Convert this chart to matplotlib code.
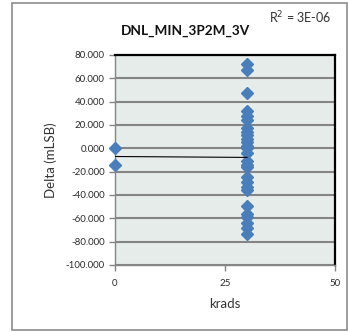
import numpy as np
import matplotlib
matplotlib.use("Agg")
import matplotlib.pyplot as plt
from matplotlib.patches import Rectangle

plt.rcParams['font.family'] = ['Lato', 'DejaVu Sans']

# krads / Delta (mLSB) readings
krads_0 = [0, 0]
delta_0 = [0, -14]
krads_30 = [30] * 27
delta_30 = [72, 67, 47, 32, 28, 24, 17, 14, 11, 8, 5, 2, 0, -4,
            -11, -14, -16, -25, -29, -33, -36, -49, -56, -59, -64, -68, -73]

y_ticks = [-100, -80, -60, -40, -20, 0, 20, 40, 60, 80]
x_ticks = [0, 25, 50]

x = np.array(krads_0 + krads_30, dtype=float)
y = np.array(delta_0 + delta_30, dtype=float)
slope, intercept = np.polyfit(x, y, 1)

fig = plt.figure(figsize=(3.48, 3.32), dpi=100)
fig.patches.append(Rectangle((12 / 348, 2 / 332), 335 / 348, 327 / 332,
                             transform=fig.transFigure, fill=False,
                             edgecolor='#8c8c8c', linewidth=1.2))

ax = fig.add_axes([115 / 348, 67 / 332, 220 / 348, 210 / 332])
ax.set_facecolor('#e6ecea')

ax.set_xlim(0, 50)
ax.set_ylim(-100, 80)
ax.set_yticks(y_ticks)
ax.set_yticklabels([f"{v:.3f}" for v in y_ticks])
ax.set_xticks(x_ticks)

ax.grid(axis='y', color='#858585', linewidth=1.5)
ax.set_axisbelow(True)

ax.plot(x, y, linestyle='none', marker='D', markersize=6,
        color='#4a7ebb', zorder=3, clip_on=False)
xs = np.array([0, 30])
ax.plot(xs, slope * xs + intercept, color='black', linewidth=0.8, zorder=4)

for side in ['top', 'right']:
    ax.spines[side].set_color('black')
    ax.spines[side].set_linewidth(1.6)
for side in ['left', 'bottom']:
    ax.spines[side].set_color('#858585')
    ax.spines[side].set_linewidth(1.0)

ax.tick_params(axis='both', colors='#858585', labelcolor='#2b2b2b',
               labelsize=7, length=4, width=1)
ax.tick_params(axis='x', pad=6)

ax.set_xlabel("krads", fontsize=9.5, color='#333333', labelpad=7)
ax.set_ylabel("Delta (mLSB)", fontsize=9.5, color='#333333', labelpad=6)

fig.text(186 / 348, 1 - 31 / 332, "DNL_MIN_3P2M_3V", ha='center', va='center',
         fontsize=9.8, fontweight='bold', color='#111111')
fig.text(300 / 348, 1 - 18 / 332, "R$^2$ = 3E-06", ha='center', va='center',
         fontsize=9, color='#333333')

fig.savefig("out.png", dpi=100)
